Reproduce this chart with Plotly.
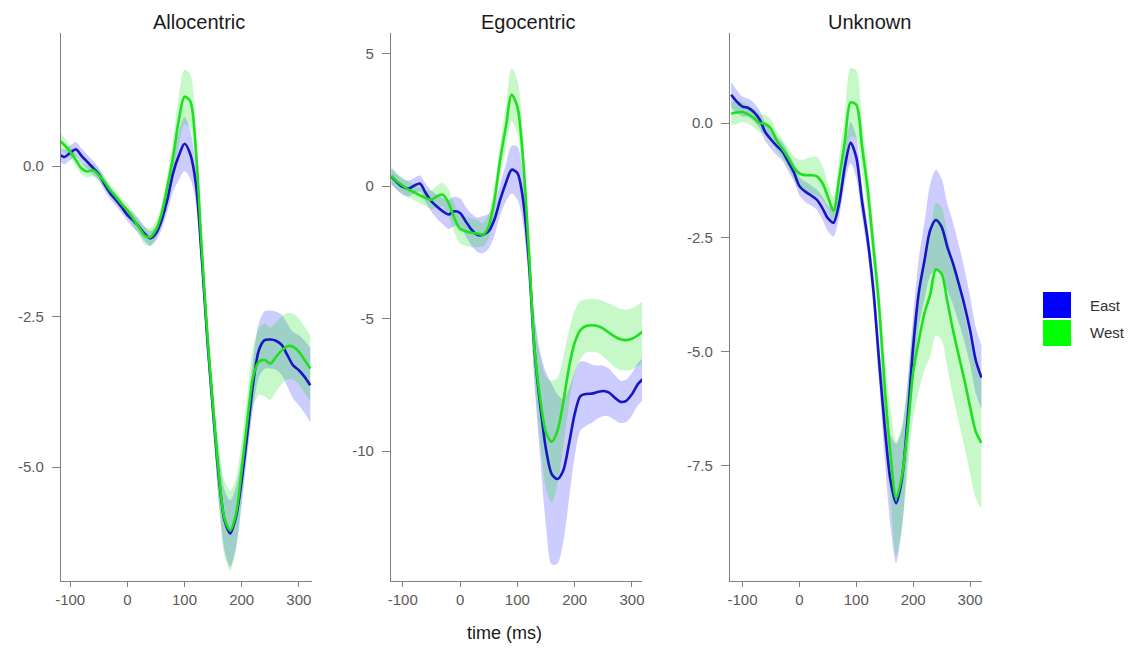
import plotly.graph_objects as go

time_ms = [-120, -110, -100, -90, -80, -70, -60, -50, -40, -30, -20, -10, 0, 10, 20, 30, 40,
           50, 60, 70, 80, 90, 100, 110, 120, 130, 140, 150, 160, 170, 180, 190, 200, 210,
           220, 230, 240, 250, 260, 270, 280, 290, 300, 310, 320]

panels = ["Allocentric", "Egocentric", "Unknown"]
series_names = ["East", "West"]

# ---- Allocentric ----
allo_east = [0.20, 0.15, 0.22, 0.28, 0.17, 0.07, -0.03, -0.13, -0.30, -0.45, -0.56, -0.68, -0.81,
             -0.90, -1.00, -1.12, -1.20, -1.12, -0.90, -0.56, -0.12, 0.17, 0.37, 0.20, -0.30,
             -1.50, -2.89, -4.07, -5.16, -5.88, -6.10, -5.83, -5.22, -4.44, -3.61, -3.06, -2.89,
             -2.88, -2.90, -2.97, -3.14, -3.31, -3.39, -3.50, -3.64]
allo_east_se = [0.12, 0.12, 0.12, 0.12, 0.12, 0.12, 0.12, 0.10, 0.10, 0.10, 0.10, 0.10, 0.10,
                0.12, 0.12, 0.12, 0.12, 0.12, 0.15, 0.20, 0.30, 0.40, 0.45, 0.40, 0.30,
                0.25, 0.25, 0.30, 0.40, 0.50, 0.55, 0.50, 0.40, 0.35, 0.40, 0.45, 0.48,
                0.48, 0.48, 0.50, 0.52, 0.55, 0.58, 0.60, 0.62]
allo_west = [0.43, 0.35, 0.24, 0.10, -0.04, -0.09, -0.07, -0.15, -0.26, -0.40, -0.51, -0.63, -0.73,
             -0.87, -1.01, -1.15, -1.18, -1.06, -0.79, -0.34, 0.15, 0.76, 1.15, 1.08, 0.25,
             -1.34, -2.80, -4.00, -5.10, -5.85, -6.05, -5.78, -5.05, -4.22, -3.50, -3.25, -3.22,
             -3.28, -3.17, -3.06, -2.99, -3.00, -3.08, -3.22, -3.36]
allo_west_se = [0.15, 0.12, 0.10, 0.10, 0.10, 0.10, 0.10, 0.10, 0.10, 0.10, 0.10, 0.10, 0.10,
                0.12, 0.12, 0.15, 0.15, 0.15, 0.15, 0.20, 0.30, 0.40, 0.45, 0.45, 0.35,
                0.30, 0.30, 0.35, 0.50, 0.62, 0.66, 0.60, 0.50, 0.45, 0.50, 0.55, 0.60,
                0.60, 0.58, 0.56, 0.55, 0.55, 0.55, 0.55, 0.55]

# ---- Egocentric ----
ego_east = [0.37, 0.15, -0.03, -0.09, 0.02, 0.10, -0.26, -0.57, -0.78, -0.95, -1.07, -0.95, -1.01,
            -1.33, -1.64, -1.83, -1.83, -1.70, -1.26, -0.51, 0.12, 0.62, 0.50, -0.51, -2.80,
            -6.20, -8.29, -9.93, -10.87, -11.05, -10.74, -9.74, -8.60, -7.92, -7.84, -7.83, -7.77,
            -7.73, -7.79, -7.98, -8.14, -8.10, -7.85, -7.48, -7.26]
ego_east_se = [0.30, 0.30, 0.30, 0.30, 0.30, 0.30, 0.35, 0.40, 0.45, 0.50, 0.55, 0.55, 0.55,
               0.55, 0.60, 0.65, 0.70, 0.65, 0.60, 0.60, 0.70, 0.90, 1.00, 0.90, 0.90,
               1.30, 2.00, 2.90, 3.40, 3.20, 2.70, 2.10, 1.60, 1.30, 1.20, 1.10, 1.00,
               0.95, 0.90, 0.85, 0.80, 0.80, 0.80, 0.80, 0.80]
ego_west = [0.40, 0.18, 0.02, -0.13, -0.23, -0.35, -0.45, -0.51, -0.38, -0.32, -0.63, -1.20, -1.61,
            -1.70, -1.76, -1.79, -1.83, -1.51, -0.51, 1.00, 2.25, 3.45, 3.00, 1.00, -2.39,
            -6.16, -8.04, -9.30, -9.65, -9.23, -8.17, -6.85, -5.91, -5.43, -5.28, -5.25, -5.28,
            -5.38, -5.53, -5.68, -5.78, -5.81, -5.76, -5.63, -5.47]
ego_west_se = [0.35, 0.30, 0.30, 0.30, 0.30, 0.30, 0.30, 0.35, 0.40, 0.45, 0.50, 0.55, 0.55,
               0.55, 0.55, 0.50, 0.45, 0.45, 0.50, 0.60, 0.80, 1.00, 1.00, 0.90, 0.90,
               1.20, 1.60, 2.10, 2.30, 2.00, 1.70, 1.40, 1.20, 1.10, 1.00, 1.00, 1.00,
               1.05, 1.10, 1.15, 1.15, 1.15, 1.15, 1.15, 1.15]

# ---- Unknown ----
unk_east = [0.62, 0.47, 0.36, 0.33, 0.24, 0.08, -0.20, -0.36, -0.50, -0.62, -0.84, -1.07, -1.38,
            -1.50, -1.58, -1.67, -1.85, -2.08, -2.18, -1.75, -0.95, -0.43, -0.75, -1.70, -2.55,
            -3.65, -5.20, -6.65, -7.81, -8.32, -7.81, -6.50, -4.90, -3.70, -3.00, -2.34, -2.12,
            -2.27, -2.71, -3.07, -3.51, -3.98, -4.53, -5.19, -5.57]
unk_east_se = [0.28, 0.25, 0.22, 0.20, 0.20, 0.20, 0.20, 0.20, 0.20, 0.20, 0.20, 0.20, 0.20,
               0.22, 0.22, 0.22, 0.25, 0.28, 0.30, 0.30, 0.35, 0.45, 0.45, 0.35, 0.30,
               0.35, 0.45, 0.70, 1.00, 1.30, 1.10, 0.80, 0.70, 0.75, 0.85, 1.00, 1.10,
               1.05, 0.95, 0.90, 0.85, 0.80, 0.75, 0.72, 0.70]
unk_west = [0.21, 0.23, 0.24, 0.19, 0.11, 0.00, -0.02, -0.12, -0.38, -0.56, -0.75, -0.97, -1.10,
            -1.14, -1.14, -1.16, -1.30, -1.61, -1.92, -1.20, -0.40, 0.45, 0.40, -0.50, -1.45,
            -2.70, -4.00, -5.77, -7.22, -8.21, -7.74, -6.72, -5.45, -4.75, -4.15, -3.75, -3.20,
            -3.30, -3.90, -4.53, -5.08, -5.62, -6.21, -6.75, -7.00]
unk_west_se = [0.25, 0.25, 0.22, 0.20, 0.20, 0.20, 0.20, 0.20, 0.20, 0.20, 0.22, 0.25, 0.30,
               0.35, 0.40, 0.42, 0.38, 0.30, 0.30, 0.45, 0.60, 0.75, 0.75, 0.60, 0.50,
               0.45, 0.50, 0.70, 1.00, 1.25, 1.10, 1.00, 1.00, 1.10, 1.25, 1.35, 1.45,
               1.45, 1.45, 1.45, 1.45, 1.45, 1.45, 1.45, 1.45]

x_tickvals = [-100, 0, 100, 200, 300]
x_ticktext = ["-100", "0", "100", "200", "300"]
allo_yticks = [0.0, -2.5, -5.0]
allo_ytext = ["0.0", "-2.5", "-5.0"]
ego_yticks = [5, 0, -5, -10]
ego_ytext = ["5", "0", "-5", "-10"]
unk_yticks = [0.0, -2.5, -5.0, -7.5]
unk_ytext = ["0.0", "-2.5", "-5.0", "-7.5"]

data = [
    (allo_east, allo_east_se, allo_west, allo_west_se),
    (ego_east, ego_east_se, ego_west, ego_west_se),
    (unk_east, unk_east_se, unk_west, unk_west_se),
]
yticks = [(allo_yticks, allo_ytext), (ego_yticks, ego_ytext), (unk_yticks, unk_ytext)]

# layout geometry (pixels in a 1130x648 canvas)
W, H = 1130, 648
x_domains_px = [(61, 312), (391, 642), (730, 982)]
y_domain_px = (33, 581)
x_ranges = [[-116, 323], [-120.5, 317.5], [-122, 321]]
y_ranges = [[-6.89, 2.21], [-14.9, 5.78], [-10.02, 1.97]]
title_centers_px = [198.5, 528.7, 869]

line_colors = {"East": "#1616c4", "West": "#1ee01e"}
fill_colors = {"East": "rgba(0,0,255,0.20)", "West": "rgba(0,225,0,0.22)"}
legend_colors = {"East": "#0000ff", "West": "#00ff00"}

FONT = "Liberation Sans, Arial, sans-serif"
AXIS_COLOR = "#808080"

fig = go.Figure()

for i, (e, e_se, w, w_se) in enumerate(data):
    xa = "x" if i == 0 else f"x{i+1}"
    ya = "y" if i == 0 else f"y{i+1}"
    for name, m, se in (("East", e, e_se), ("West", w, w_se)):
        upper = [a + b for a, b in zip(m, se)]
        lower = [a - b for a, b in zip(m, se)]
        fig.add_trace(go.Scatter(x=time_ms, y=upper, xaxis=xa, yaxis=ya, mode="lines",
                                 line=dict(width=0, shape="spline", smoothing=0.8),
                                 showlegend=False, hoverinfo="skip"))
        fig.add_trace(go.Scatter(x=time_ms, y=lower, xaxis=xa, yaxis=ya, mode="lines",
                                 line=dict(width=0, shape="spline", smoothing=0.8),
                                 fill="tonexty", fillcolor=fill_colors[name],
                                 showlegend=False, hoverinfo="skip"))
    for name, m in (("East", e), ("West", w)):
        fig.add_trace(go.Scatter(x=time_ms, y=m, xaxis=xa, yaxis=ya, mode="lines", name=name,
                                 line=dict(color=line_colors[name], width=2.6, shape="spline",
                                           smoothing=0.8),
                                 showlegend=False))

layout = dict(
    width=W, height=H,
    margin=dict(l=0, r=0, t=0, b=0, autoexpand=False),
    paper_bgcolor="white", plot_bgcolor="white",
    font=dict(family=FONT, color="#555"),
    showlegend=False,
)

for i in range(3):
    xk = "xaxis" if i == 0 else f"xaxis{i+1}"
    yk = "yaxis" if i == 0 else f"yaxis{i+1}"
    ya = "y" if i == 0 else f"y{i+1}"
    xa = "x" if i == 0 else f"x{i+1}"
    x0, x1 = x_domains_px[i]
    layout[xk] = dict(
        domain=[x0 / W, x1 / W], anchor=ya, range=x_ranges[i], automargin=False,
        showline=True, linecolor=AXIS_COLOR, linewidth=1.3,
        ticks="outside", ticklen=5, tickcolor=AXIS_COLOR, tickwidth=1,
        tickvals=x_tickvals, ticktext=x_ticktext,
        tickfont=dict(size=15, color="#5a5a5a", family=FONT),
        showgrid=False, zeroline=False,
    )
    layout[yk] = dict(
        domain=[1 - y_domain_px[1] / H, 1 - y_domain_px[0] / H], anchor=xa,
        range=y_ranges[i], automargin=False,
        showline=True, linecolor=AXIS_COLOR, linewidth=1.3,
        ticks="outside", ticklen=8, tickcolor=AXIS_COLOR, tickwidth=1,
        tickvals=yticks[i][0], ticktext=yticks[i][1],
        tickfont=dict(size=15, color="#5a5a5a", family=FONT),
        ticklabelstandoff=5,
        showgrid=False, zeroline=False,
    )

fig.update_layout(**layout)

annotations = []
for i, name in enumerate(panels):
    annotations.append(dict(text=name, x=title_centers_px[i] / W, y=1 - 22 / H,
                            xref="paper", yref="paper", showarrow=False,
                            xanchor="center", yanchor="middle",
                            font=dict(size=20, color="#1a1a1a", family=FONT)))
annotations.append(dict(text="time (ms)", x=505 / W, y=1 - 633 / H, xref="paper", yref="paper",
                        showarrow=False, xanchor="center", yanchor="middle",
                        font=dict(size=18, color="#1a1a1a", family=FONT)))

# legend drawn as colour keys
shapes = []
legend_rows_px = [(292, 318), (320, 346)]
for (top, bot), name in zip(legend_rows_px, series_names):
    shapes.append(dict(type="rect", xref="paper", yref="paper",
                       x0=1043 / W, x1=1071 / W, y0=1 - bot / H, y1=1 - top / H,
                       fillcolor=legend_colors[name], line=dict(width=0)))
    annotations.append(dict(text=name, x=1088 / W, y=1 - ((top + bot) / 2) / H,
                            xref="paper", yref="paper", showarrow=False,
                            xanchor="left", yanchor="middle",
                            font=dict(size=15, color="#333", family=FONT)))

fig.update_layout(annotations=annotations, shapes=shapes)

fig.write_html("out.html")
